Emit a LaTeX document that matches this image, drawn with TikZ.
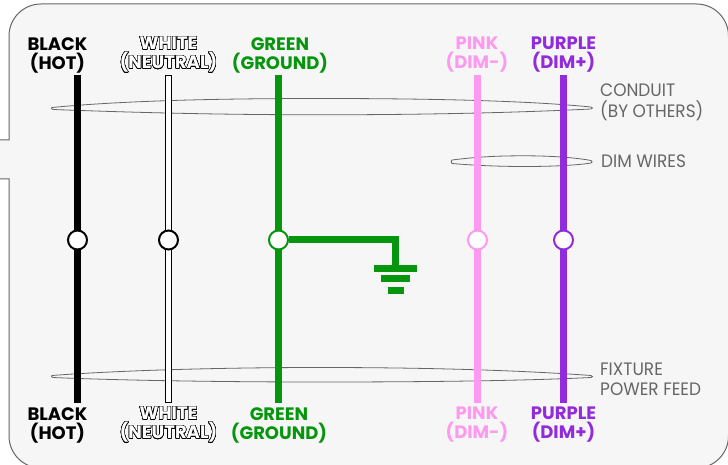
\documentclass[tikz,border=0pt]{standalone}
\usepackage{fontspec}
\usepackage[copies]{contour}
\setmainfont{Poppins}
\newfontfamily\sidefont[FakeStretch=0.94]{Poppins}
\contourlength{0.5pt}
\contournumber{24}
\definecolor{panel}{HTML}{F6F6F6}
\definecolor{framegray}{HTML}{666666}
\definecolor{labelgray}{HTML}{666666}
\definecolor{wgreen}{HTML}{05960D}
\definecolor{wpink}{HTML}{FD99F0}
\definecolor{wpurple}{HTML}{922BDB}
\tikzset{
  px/.style={x=1pt,y=-1pt},
  wire/.style={line width=7pt,line cap=butt},
  joint/.style={circle,draw,line width=2pt,fill=white,minimum size=19pt,inner sep=0pt},
  collar/.style={draw=framegray,line width=0.8pt},
  wirelabel/.style={font=\fontsize{18}{19}\selectfont\bfseries,align=center,inner sep=0pt,anchor=center},
  sidelabel/.style={font=\sidefont\fontsize{18}{20.5}\selectfont,text=labelgray,align=left,inner sep=0pt,anchor=west},
  groundbar/.style={fill=wgreen,draw=none}
}
\begin{document}
\begin{tikzpicture}[px]
\useasboundingbox (0,0) rectangle (728,465);
\fill[white] (0,0) rectangle (728,465);
% frame
\path[fill=panel,draw=framegray,line width=1pt]
  (0,140) -- (9,140) -- (9,36) arc[start angle=180,end angle=90,radius=32pt]
  -- (696.5,4) arc[start angle=90,end angle=0,radius=32pt]
  -- (728.5,436) arc[start angle=0,end angle=-90,radius=32pt]
  -- (41,468) arc[start angle=270,end angle=180,radius=32pt]
  -- (9,179) -- (0,179);
% collars
\draw[collar] (52,107.5) .. controls (120,101) and (210,98.5) .. (320,98.5)
  .. controls (440,98.5) and (530,101) .. (591,107)
  .. controls (593,107.5) and (593,108.5) .. (591,109)
  .. controls (530,112) and (440,114.8) .. (320,114.8)
  .. controls (210,114.8) and (120,112) .. (53,109.5)
  .. controls (51,109) and (51,108) .. (52,107.5) -- cycle;
\draw[collar] (452,160) .. controls (480,156.5) and (500,155.8) .. (525,155.8)
  .. controls (550,155.8) and (575,157.5) .. (591,160.5)
  .. controls (592.5,161) and (592.5,163) .. (591,163)
  .. controls (575,165.5) and (550,166.5) .. (525,166.5)
  .. controls (500,166.5) and (475,165.5) .. (452,163.5)
  .. controls (451,163) and (451,160.5) .. (452,160) -- cycle;
\draw[collar] (52,375.5) .. controls (110,371) and (210,367.5) .. (320,367.5)
  .. controls (440,367.5) and (530,371) .. (591,375.5)
  .. controls (593,376) and (593,377) .. (591,377.5)
  .. controls (530,380.5) and (440,382) .. (320,382)
  .. controls (210,382) and (110,380) .. (53,377.5)
  .. controls (51,377) and (51,376) .. (52,375.5) -- cycle;
% wires
\coordinate (bt) at (77.5,75); \coordinate (bb) at (77.5,403);
\coordinate (gt) at (278.5,75); \coordinate (gb) at (278.5,403);
\coordinate (pt) at (477.5,75); \coordinate (pb) at (477.5,403);
\coordinate (ut) at (563.5,75); \coordinate (ub) at (563.5,403);
\draw[wire,black] (bt) -- (bb);
\draw[line width=1.2pt,black,fill=white] (165.5,75.5) rectangle (171.5,402.5);
\draw[wire,wgreen] (gt) -- (gb);
\draw[wire,wpink] (pt) -- (pb);
\draw[wire,wpurple] (ut) -- (ub);
% joints and ground
\node[joint,draw=black] (jb) at (77.5,240) {};
\node[joint,draw=black] (jw) at (168.5,240) {};
\node[joint,draw=wgreen] (jg) at (278.5,240) {};
\node[joint,draw=wpink] (jp) at (477.5,240) {};
\node[joint,draw=wpurple] (ju) at (563.5,240) {};
\coordinate (gc) at (395.5,239.5);
\coordinate (gnd) at (395.5,268);
\draw[wire,wgreen,line join=miter] (jg.east |- gc) -- (gc) -- (gnd);
\fill[groundbar] (374,265) rectangle (417,272);
\fill[groundbar] (381,275) rectangle (410,282);
\fill[groundbar] (388,287) rectangle (404,294);
% top labels
\node[wirelabel,text=black] (lb1) at (57.5,55) {BLACK\\(HOT)};
\node[wirelabel] (lw1) at (168.5,55) {\contour{black}{\textcolor{white}{WHITE}}\\\contour{black}{\textcolor{white}{(NEUTRAL)}}};
\node[wirelabel,text=wgreen] (lg1) at (280,55) {GREEN\\(GROUND)};
\node[wirelabel,text=wpink] (lp1) at (477,55) {PINK\\(DIM-)};
\node[wirelabel,text=wpurple] (lu1) at (563.5,55) {PURPLE\\(DIM+)};
% bottom labels
\node[wirelabel,text=black] (lb2) at (57.5,425) {BLACK\\(HOT)};
\node[wirelabel] (lw2) at (168.5,425) {\contour{black}{\textcolor{white}{WHITE}}\\\contour{black}{\textcolor{white}{(NEUTRAL)}}};
\node[wirelabel,text=wgreen] (lg2) at (279,425) {GREEN\\(GROUND)};
\node[wirelabel,text=wpink] (lp2) at (477,425) {PINK\\(DIM-)};
\node[wirelabel,text=wpurple] (lu2) at (563.5,425) {PURPLE\\(DIM+)};
% side labels
\node[sidelabel] (sc) at (600,102.5) {CONDUIT\\(BY OTHERS)};
\node[sidelabel] (sd) at (601,161.5) {DIM WIRES};
\node[sidelabel] (sf) at (600,379.5) {FIXTURE\\POWER FEED};
\end{tikzpicture}
\end{document}
